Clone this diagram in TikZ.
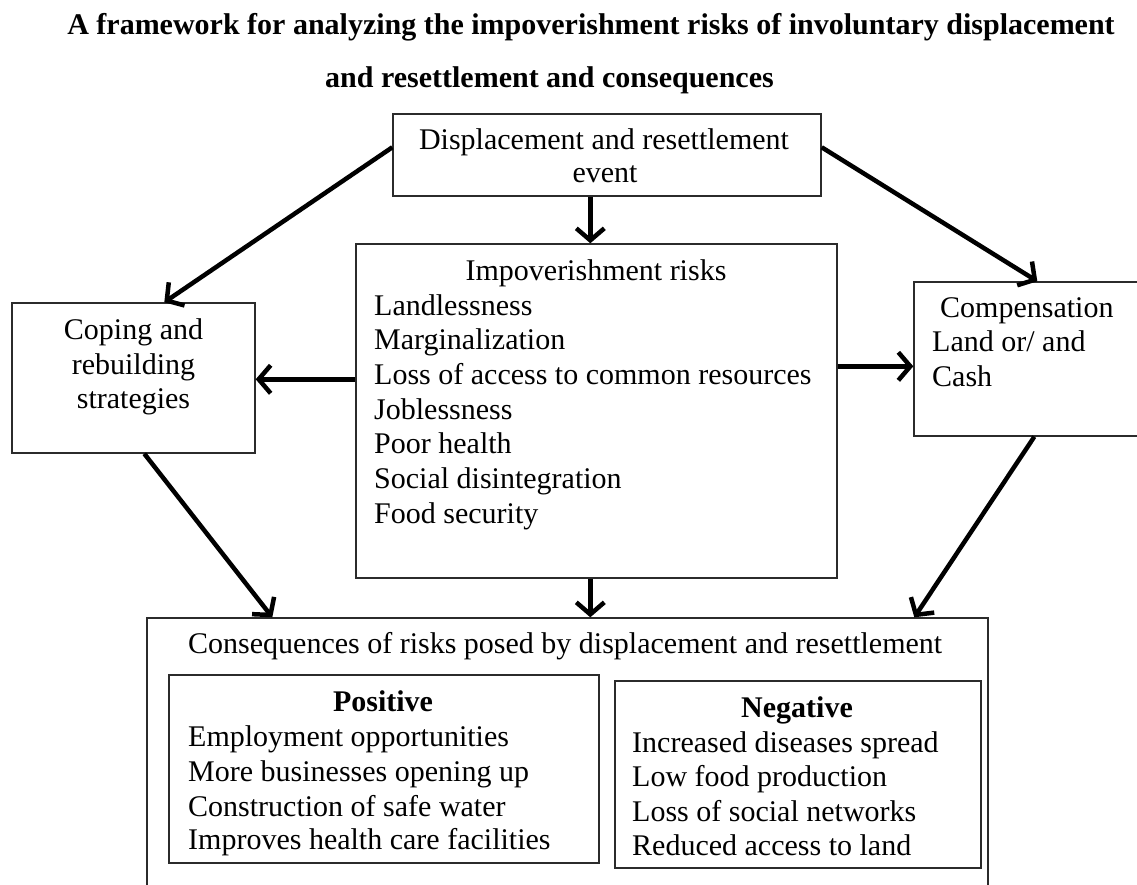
\documentclass[tikz,border=0pt]{standalone}
\usepackage{fontspec}
\setmainfont{Liberation Serif}
\usetikzlibrary{arrows.meta,calc}
\definecolor{boxline}{HTML}{2B2B2B}
\begin{document}
\begin{tikzpicture}[x=1pt,y=-1pt,
  box/.style={draw=boxline,line width=1.4pt,rectangle,inner sep=0pt,fill=none},
  txt/.style={inner sep=0pt,font=\fontsize{30}{35}\selectfont},
  arr/.style={line width=4.5pt,-{Straight Barb[length=12pt,width=28pt]}}]
\useasboundingbox (0,0) rectangle (1137,885);
\clip (0,0) rectangle (1137,885);
\fill[white] (0,0) rectangle (1137,885);
% title
\node[txt,anchor=base] (title1) at (591,35) {\bfseries A framework for analyzing the impoverishment risks of involuntary displacement};
\node[txt,anchor=base west] (title2) at (325,88) {\bfseries and resettlement and consequences};
% boxes
\node[box,minimum width=428pt,minimum height=82pt] (top) at (607,155) {};
\node[box,minimum width=481pt,minimum height=334pt] (mid) at (596.5,411) {};
\node[box,minimum width=243pt,minimum height=150pt] (coping) at (133.5,378) {};
\node[box,minimum width=228pt,minimum height=154pt] (comp) at (1028,359) {};
\node[box,minimum width=841pt,minimum height=282pt] (cons) at (567.5,759) {};
\node[box,minimum width=430pt,minimum height=188pt] (pos) at (384,769) {};
\node[box,minimum width=366pt,minimum height=187pt] (neg) at (798,774.5) {};
% texts
\node[txt,anchor=base] (top1) at (604,150) {Displacement and resettlement};
\node[txt,anchor=base] (top2) at (605,183) {event};
\node[txt,anchor=base] (midh) at (596,280) {Impoverishment risks};
\node[txt,anchor=base west] (m1) at (374,315) {Landlessness};
\node[txt,anchor=base west] (m2) at (374,349.7) {Marginalization};
\node[txt,anchor=base west] (m3) at (374,384.4) {Loss of access to common resources};
\node[txt,anchor=base west] (m4) at (374,419.1) {Joblessness};
\node[txt,anchor=base west] (m5) at (374,453.8) {Poor health};
\node[txt,anchor=base west] (m6) at (374,488.5) {Social disintegration};
\node[txt,anchor=base west] (m7) at (374,523.2) {Food security};
\node[txt,anchor=base] (c1) at (133.5,339) {Coping and};
\node[txt,anchor=base] (c2) at (133.5,374) {rebuilding};
\node[txt,anchor=base] (c3) at (133.5,408) {strategies};
\node[txt,anchor=base west] (k1) at (940,317) {Compensation};
\node[txt,anchor=base west] (k2) at (932,351) {Land or/ and};
\node[txt,anchor=base west] (k3) at (932,386) {Cash};
\node[txt,anchor=base west] (consh) at (188,653) {Consequences of risks posed by displacement and resettlement};
\node[txt,anchor=base] (posh) at (383,711) {\bfseries Positive};
\node[txt,anchor=base west] (p1) at (188,746) {Employment opportunities};
\node[txt,anchor=base west] (p2) at (188,781) {More businesses opening up};
\node[txt,anchor=base west] (p3) at (188,816) {Construction of safe water};
\node[txt,anchor=base west] (p4) at (188,849) {Improves health care facilities};
\node[txt,anchor=base] (negh) at (797,717) {\bfseries Negative};
\node[txt,anchor=base west] (n1) at (632,752) {Increased diseases spread};
\node[txt,anchor=base west] (n2) at (632,786) {Low food production};
\node[txt,anchor=base west] (n3) at (632,821) {Loss of social networks};
\node[txt,anchor=base west] (n4) at (632,855) {Reduced access to land};
% arrows
\draw[arr] ($(top.north west)+(0,34)$) -- ($(coping.north west)+(153,0)$);
\draw[arr] ($(top.north east)+(0,34)$) -- ($(comp.north west)+(124,0)$);
\draw[arr] ($(top.south west)+(198,0)$) -- ($(mid.north west)+(235,0)$);
\draw[arr] ($(mid.north west)+(0,136)$) -- ($(coping.north east)+(0,77)$);
\draw[arr] ($(mid.north east)+(0,123)$) -- ($(comp.north west)+(0,85)$);
\draw[arr] ($(coping.south west)+(133,0)$) -- ($(cons.north west)+(126,0)$);
\draw[arr] ($(mid.south west)+(235,0)$) -- ($(cons.north west)+(444,0)$);
\draw[arr] ($(comp.south west)+(121,0)$) -- ($(cons.north west)+(768,0)$);
\end{tikzpicture}
\end{document}
